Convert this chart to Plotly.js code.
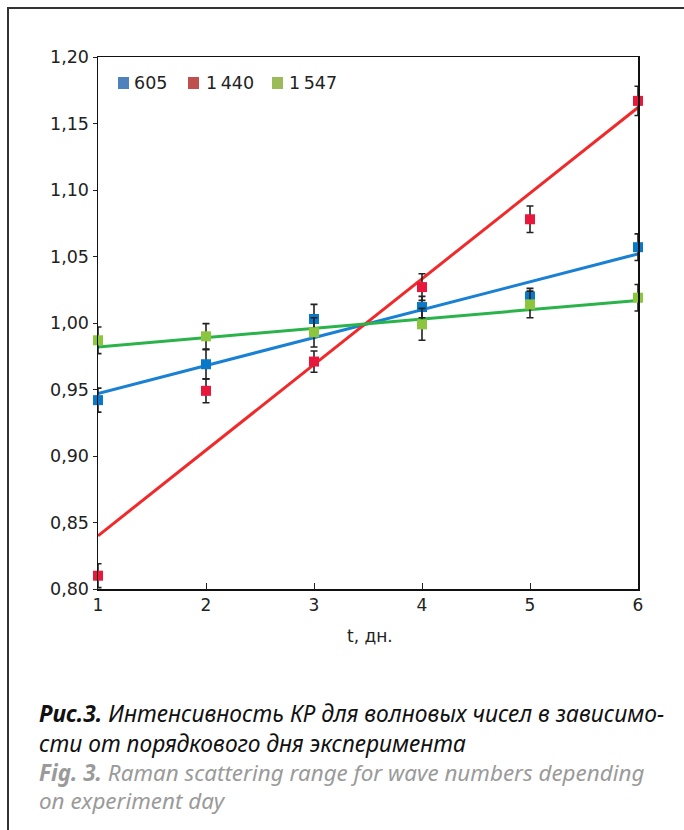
<!DOCTYPE html>
<html>
<head>
<meta charset="utf-8">
<script src="https://cdn.plot.ly/plotly-3.0.1.min.js"></script>
<style>html,body{margin:0;padding:0;background:#fff;}#chart{width:684px;height:830px;}</style>
</head>
<body>
<div id="chart"></div>
<script>
// Data
const days = [1, 2, 3, 4, 5, 6];
const seriesNames = ["605", "1\u2009440", "1\u2009547"];
const v605  = [0.942, 0.969, 1.003, 1.012, 1.020, 1.057];
const e605  = [0.009, 0.011, 0.011, 0.008, 0.006, 0.010];
const v1440 = [0.810, 0.949, 0.971, 1.027, 1.078, 1.167];
const e1440 = [0.009, 0.009, 0.008, 0.010, 0.010, 0.011];
const v1547 = [0.987, 0.990, 0.993, 0.999, 1.014, 1.019];
const e1547 = [0.010, 0.0095, 0.011, 0.012, 0.010, 0.010];
// trend lines (linear fits) read at the ends, x = 1 and x = 6
const trendX = [1, 6];
const t605  = [0.947, 1.052];
const t1440 = [0.840, 1.162];
const t1547 = [0.982, 1.017];
const yTicks = [0.80, 0.85, 0.90, 0.95, 1.00, 1.05, 1.10, 1.15, 1.20];

const markerCols = ["#0a78c8", "#e8183c", "#8cc63f"];
const lineCols   = ["#1a80d4", "#f02a2a", "#2ab34a"];
const legendCols = ["#4f81bd", "#c0504d", "#9bbb59"];
const vals = [v605, v1440, v1547];
const errs = [e605, e1440, e1547];
const trends = [t605, t1440, t1547];

const traces = [];
// trend lines
for (let i = 0; i < 3; i++) {
  traces.push({x: trendX, y: trends[i], mode: 'lines', name: seriesNames[i] + ' trend',
    showlegend: false, hoverinfo: 'skip', line: {color: lineCols[i], width: 3}});
}
// points with error bars
for (let i = 0; i < 3; i++) {
  traces.push({x: days, y: vals[i], mode: 'markers', name: seriesNames[i], showlegend: false, cliponaxis: false,
    marker: {symbol: 'square', size: 10, color: markerCols[i]},
    error_y: {type: 'data', array: errs[i], visible: true, color: '#222', thickness: 1.6, width: 3.5}});
}

const font = "DejaVu Sans, sans-serif";
const capFont = "Noto Sans, sans-serif";
const L = 98, T = 57, W = 540, H = 532;
const px = x => (x - L) / W;
const py = y => (T + H - y) / H;

// legend (drawn in pixel positions of the reference)
const legSq = [118, 188, 272];
const legTx = [133, 205, 288];
const legY = 83;
const shapes = [
  {type: 'line', xref: 'paper', yref: 'paper', x0: px(8), x1: px(8), y0: py(8), y1: py(832),
    line: {color: '#333', width: 2}},
  {type: 'line', xref: 'paper', yref: 'paper', x0: px(7), x1: px(686), y0: py(8), y1: py(8),
    line: {color: '#333', width: 2}}
];
const annotations = [
  {xref: 'paper', yref: 'paper', x: px(370), y: py(636), text: 't, дн.', showarrow: false,
    xanchor: 'center', yanchor: 'middle', font: {family: font, size: 17, color: '#222'}},
  {xref: 'paper', yref: 'paper', x: px(37), y: py(713), showarrow: false, xanchor: 'left', yanchor: 'middle', align: 'left',
    text: '<b><i>Рис.3.</i></b> <i>Интенсивность КР для волновых чисел в зависимо-</i>',
    font: {family: capFont, size: 22.8, color: '#111'}},
  {xref: 'paper', yref: 'paper', x: px(37), y: py(743), showarrow: false, xanchor: 'left', yanchor: 'middle', align: 'left',
    text: '<i>сти от порядкового дня эксперимента</i>',
    font: {family: capFont, size: 22.8, color: '#111'}},
  {xref: 'paper', yref: 'paper', x: px(37), y: py(772), showarrow: false, xanchor: 'left', yanchor: 'middle', align: 'left',
    text: '<b><i>Fig. 3.</i></b> <i>Raman scattering range for wave numbers depending</i>',
    font: {family: capFont, size: 22.4, color: '#9a9a9a'}},
  {xref: 'paper', yref: 'paper', x: px(37), y: py(800), showarrow: false, xanchor: 'left', yanchor: 'middle', align: 'left',
    text: '<i>on experiment day</i>',
    font: {family: capFont, size: 22.4, color: '#9a9a9a'}}
];
for (let i = 0; i < 3; i++) {
  shapes.push({type: 'rect', xref: 'paper', yref: 'paper', x0: px(legSq[i]), x1: px(legSq[i] + 11),
    y0: py(legY + 6), y1: py(legY - 6), line: {width: 0}, fillcolor: legendCols[i]});
  annotations.push({xref: 'paper', yref: 'paper', x: px(legTx[i]), y: py(legY), text: seriesNames[i],
    showarrow: false, xanchor: 'left', yanchor: 'middle', borderpad: 0,
    font: {family: font, size: 17.5, color: '#222'}});
}

const layout = {
  width: 684, height: 830,
  margin: {l: L, r: 684 - L - W, t: T, b: 830 - T - H},
  paper_bgcolor: '#fff', plot_bgcolor: '#fff',
  separators: ', ',
  font: {family: font, size: 17, color: '#222'},
  showlegend: false,
  xaxis: {range: [1, 6], tickvals: days, ticks: 'inside', ticklen: 6, tickcolor: '#222',
    showgrid: false, zeroline: false, showline: true, linecolor: '#111', linewidth: 1.5,
    mirror: true, layer: 'above traces', tickfont: {size: 17}},
  yaxis: {range: [0.80, 1.20], tickvals: yTicks, tickformat: '.2f', ticks: 'outside', ticklen: 4,
    tickcolor: '#222', showgrid: false, zeroline: false, showline: true, linecolor: '#111',
    linewidth: 1.5, mirror: true, layer: 'above traces', tickfont: {size: 17.5}},
  shapes: shapes,
  annotations: annotations
};

Plotly.newPlot('chart', traces, layout, {displayModeBar: false, staticPlot: true});
</script>
</body>
</html>
